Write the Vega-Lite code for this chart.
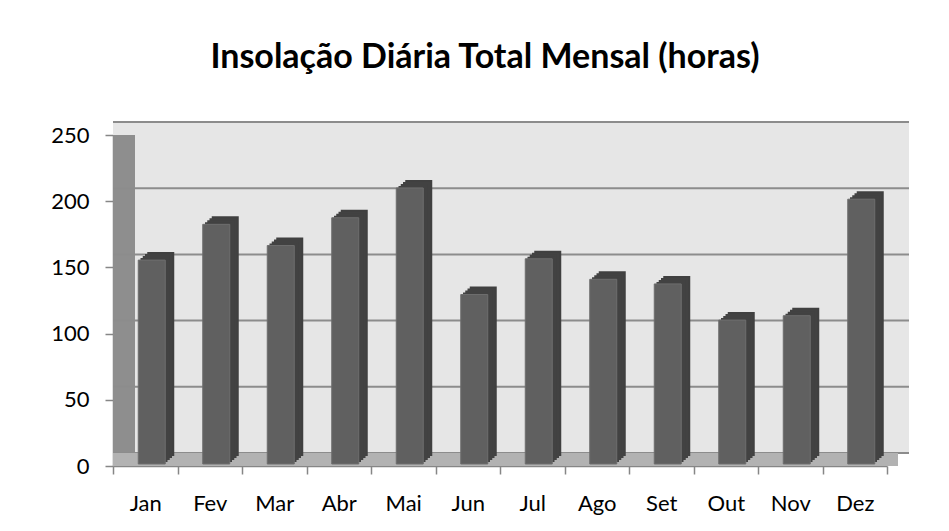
{
  "$schema": "https://vega.github.io/schema/vega-lite/v6.json",
  "width": 774,
  "height": 331,
  "autosize": "none",
  "padding": {"left": 113, "top": 135, "right": 62, "bottom": 65},
  "background": "white",
  "title": {
    "text": "Insolação Diária Total Mensal (horas)",
    "font": "Lato",
    "fontSize": 34,
    "fontWeight": "bold",
    "color": "#000000",
    "anchor": "middle",
    "dx": -15,
    "offset": 46
  },
  "datasets": {
    "months": [
      {"mes": "Jan", "horas": 154},
      {"mes": "Fev", "horas": 181},
      {"mes": "Mar", "horas": 165},
      {"mes": "Abr", "horas": 186},
      {"mes": "Mai", "horas": 208.5},
      {"mes": "Jun", "horas": 128},
      {"mes": "Jul", "horas": 155},
      {"mes": "Ago", "horas": 139.5},
      {"mes": "Set", "horas": 136},
      {"mes": "Out", "horas": 108.7},
      {"mes": "Nov", "horas": 112},
      {"mes": "Dez", "horas": 200}
    ],
    "grid": [{"v": 0}, {"v": 50}, {"v": 100}, {"v": 150}, {"v": 200}, {"v": 250}]
  },
  "config": {
    "view": {"stroke": null},
    "axis": {"labelFont": "Lato", "labelFontSize": 22, "labelColor": "#000000", "domainColor": "#868686", "tickColor": "#868686", "domainWidth": 1.5, "tickWidth": 1.5, "zindex": 1}
  },
  "layer": [
    {
      "data": {"values": [{}]},
      "mark": {"type": "rule", "color": "#E6E6E6", "strokeWidth": 331, "xOffset": 22, "yOffset": -13},
      "encoding": {
        "y": {"datum": 125, "type": "quantitative"}
      }
    },
    {
      "data": {"values": [{}]},
      "mark": {"type": "rule", "color": "#8E8E8E", "strokeWidth": 22, "xOffset": -21.25, "yOffset": -7},
      "encoding": {
        "x": {"datum": "Jan", "type": "ordinal"},
        "y": {"datum": 0, "type": "quantitative"},
        "y2": {"datum": 250}
      }
    },
    {
      "data": {"name": "grid"},
      "mark": {"type": "rule", "color": "#8C8C8C", "strokeWidth": 2, "xOffset": 22, "yOffset": -13},
      "encoding": {
        "y": {"field": "v", "type": "quantitative"}
      }
    },
    {
      "data": {"values": [{}]},
      "mark": {"type": "rule", "color": "#B2B2B2", "strokeWidth": 13, "xOffset": 11, "yOffset": 0},
      "encoding": {
        "y": {"datum": 4.9, "type": "quantitative"}
      }
    },
    {
      "data": {"name": "months"},
      "mark": {"type": "bar", "color": "#404040", "width": 27, "xOffset": 15.5, "yOffset": -10},
      "encoding": {
        "x": {"field": "mes", "type": "ordinal"},
        "y": {"field": "horas", "type": "quantitative"}
      }
    },
    {
      "data": {"name": "months"},
      "mark": {"type": "bar", "color": "#424242", "width": 27, "xOffset": 13.25, "yOffset": -8},
      "encoding": {
        "x": {"field": "mes", "type": "ordinal"},
        "y": {"field": "horas", "type": "quantitative"}
      }
    },
    {
      "data": {"name": "months"},
      "mark": {"type": "bar", "color": "#424242", "width": 27, "xOffset": 11, "yOffset": -6},
      "encoding": {
        "x": {"field": "mes", "type": "ordinal"},
        "y": {"field": "horas", "type": "quantitative"}
      }
    },
    {
      "data": {"name": "months"},
      "mark": {"type": "bar", "color": "#424242", "width": 27, "xOffset": 8.75, "yOffset": -4},
      "encoding": {
        "x": {"field": "mes", "type": "ordinal"},
        "y": {"field": "horas", "type": "quantitative"}
      }
    },
    {
      "data": {"name": "months"},
      "mark": {"type": "bar", "fill": "#606060", "stroke": "#6E6E6E", "strokeWidth": 1, "width": 27, "xOffset": 6.5, "yOffset": -2},
      "encoding": {
        "x": {
          "field": "mes",
          "type": "ordinal",
          "scale": {"domain": ["Jan", "Fev", "Mar", "Abr", "Mai", "Jun", "Jul", "Ago", "Set", "Out", "Nov", "Dez"], "paddingInner": 0, "paddingOuter": 0},
          "axis": {"title": null, "labelAngle": 0, "labelAlign": "center", "tickBand": "extent", "tickSize": 8, "labelPadding": 29}
        },
        "y": {
          "field": "horas",
          "type": "quantitative",
          "scale": {"domain": [0, 250], "nice": false},
          "axis": {"title": null, "values": [0, 50, 100, 150, 200, 250], "grid": false, "tickSize": 8, "labelPadding": 16}
        }
      }
    }
  ]
}
